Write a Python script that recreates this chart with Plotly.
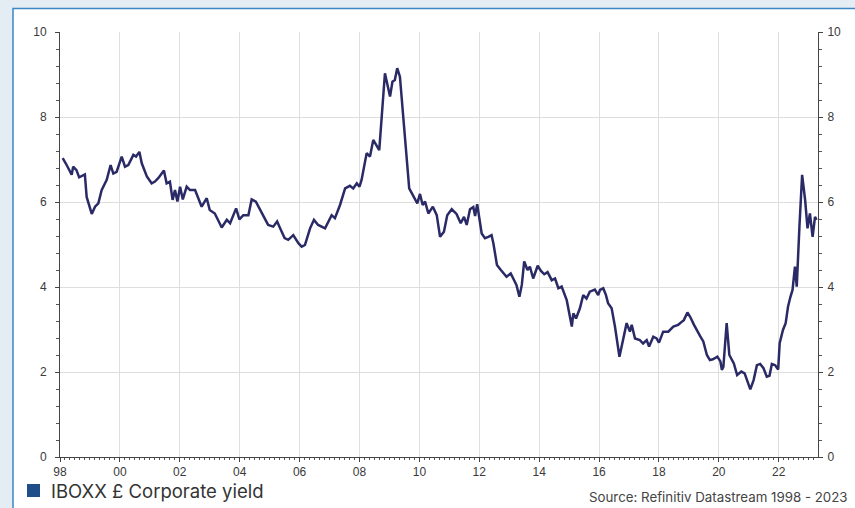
import plotly.graph_objects as go

# Decimal-year positions and yield values (%)
years = [
    1998.09, 1998.2, 1998.39, 1998.44, 1998.55, 1998.64, 1998.83, 1998.89, 1999.06, 1999.17,
    1999.28, 1999.39, 1999.56, 1999.69, 1999.78, 1999.89, 2000.06, 2000.17, 2000.28, 2000.45,
    2000.54, 2000.65, 2000.73, 2000.9, 2001.06, 2001.17, 2001.28, 2001.47, 2001.56, 2001.67,
    2001.76, 2001.84, 2001.92, 2002.01, 2002.1, 2002.23, 2002.34, 2002.51, 2002.73, 2002.9,
    2003.0, 2003.17, 2003.4, 2003.57, 2003.68, 2003.88, 2003.99, 2004.12, 2004.29, 2004.4,
    2004.54, 2004.73, 2004.95, 2005.12, 2005.25, 2005.35, 2005.5, 2005.62, 2005.79, 2005.96,
    2006.07, 2006.18, 2006.35, 2006.48, 2006.62, 2006.85, 2007.07, 2007.18, 2007.35, 2007.52,
    2007.68, 2007.79, 2007.91, 2008.0, 2008.07, 2008.24, 2008.35, 2008.46, 2008.55, 2008.66,
    2008.85, 2009.02, 2009.1, 2009.18, 2009.26, 2009.35, 2009.66, 2009.8, 2009.93, 2010.02,
    2010.11, 2010.19, 2010.3, 2010.45, 2010.58, 2010.69, 2010.82, 2010.93, 2011.08, 2011.24,
    2011.38, 2011.49, 2011.58, 2011.69, 2011.8, 2011.86, 2011.93, 2012.08, 2012.19, 2012.3,
    2012.41, 2012.47, 2012.59, 2012.72, 2012.91, 2013.05, 2013.16, 2013.24, 2013.34, 2013.42,
    2013.5, 2013.61, 2013.69, 2013.8, 2013.95, 2014.06, 2014.17, 2014.28, 2014.42, 2014.53,
    2014.64, 2014.75, 2014.92, 2015.09, 2015.14, 2015.23, 2015.36, 2015.47, 2015.58, 2015.69,
    2015.86, 2015.97, 2016.03, 2016.14, 2016.23, 2016.3, 2016.42, 2016.53, 2016.68, 2016.79,
    2016.92, 2017.03, 2017.09, 2017.2, 2017.36, 2017.47, 2017.59, 2017.67, 2017.81, 2017.92,
    2018.0, 2018.14, 2018.31, 2018.48, 2018.64, 2018.76, 2018.83, 2018.95, 2019.04, 2019.17,
    2019.31, 2019.37, 2019.48, 2019.6, 2019.7, 2019.8, 2019.95, 2020.05, 2020.1, 2020.15,
    2020.26, 2020.35, 2020.5, 2020.61, 2020.75, 2020.86, 2021.05, 2021.16, 2021.27, 2021.38,
    2021.49, 2021.6, 2021.69, 2021.77, 2021.88, 2021.98, 2022.03, 2022.14, 2022.23, 2022.31,
    2022.39, 2022.46, 2022.54, 2022.6, 2022.69, 2022.78, 2022.88, 2022.96, 2023.04, 2023.13,
    2023.21, 2023.26,
]
yield_pct = [
    7.03, 6.9, 6.64, 6.83, 6.75, 6.58, 6.65, 6.12, 5.72, 5.89,
    5.97, 6.28, 6.52, 6.87, 6.67, 6.71, 7.07, 6.83, 6.87, 7.11,
    7.07, 7.18, 6.91, 6.6, 6.44, 6.48, 6.56, 6.74, 6.44, 6.48,
    6.05, 6.28, 6.01, 6.36, 6.06, 6.36, 6.28, 6.28, 5.89, 6.09,
    5.81, 5.73, 5.4, 5.58, 5.5, 5.85, 5.59, 5.69, 5.69, 6.06,
    6.01, 5.77, 5.46, 5.42, 5.54, 5.38, 5.15, 5.11, 5.22, 5.03,
    4.95, 4.99, 5.38, 5.58, 5.46, 5.38, 5.69, 5.62, 5.93, 6.32,
    6.38, 6.32, 6.44, 6.36, 6.52, 7.15, 7.07, 7.46, 7.34, 7.22,
    9.03, 8.48, 8.83, 8.87, 9.15, 8.95, 6.32, 6.12, 5.97, 6.19,
    5.93, 6.01, 5.73, 5.89, 5.69, 5.18, 5.3, 5.69, 5.83, 5.72,
    5.5, 5.65, 5.46, 5.83, 5.88, 5.67, 5.95, 5.26, 5.15, 5.18,
    5.22, 5.03, 4.52, 4.4, 4.24, 4.32, 4.16, 4.05, 3.77, 4.05,
    4.6, 4.4, 4.48, 4.2, 4.5, 4.38, 4.3, 4.35, 4.16, 4.2,
    3.97, 4.01, 3.69, 3.07, 3.38, 3.26, 3.5, 3.81, 3.73, 3.89,
    3.94, 3.81, 3.93, 3.97, 3.81, 3.62, 3.5, 3.07, 2.36, 2.75,
    3.15, 2.95, 3.11, 2.79, 2.75, 2.67, 2.75, 2.6, 2.83, 2.79,
    2.69, 2.95, 2.95, 3.07, 3.11, 3.18, 3.22, 3.4, 3.3, 3.11,
    2.91, 2.85, 2.72, 2.4, 2.28, 2.3, 2.36, 2.25, 2.05, 2.12,
    3.15, 2.4, 2.2, 1.93, 2.01, 1.97, 1.59, 1.81, 2.16, 2.19,
    2.09, 1.89, 1.91, 2.19, 2.16, 2.06, 2.68, 2.99, 3.15, 3.54,
    3.77, 3.93, 4.48, 4.01, 5.42, 6.64, 6.05, 5.38, 5.73, 5.18,
    5.65, 5.58,
]

x_tick_vals = [1998, 2000, 2002, 2004, 2006, 2008, 2010, 2012, 2014, 2016, 2018, 2020, 2022]
x_tick_text = ["98", "00", "02", "04", "06", "08", "10", "12", "14", "16", "18", "20", "22"]
y_tick_vals = [0, 2, 4, 6, 8, 10]

series_name = "IBOXX £ Corporate yield"
source_text = "Source: Refinitiv Datastream 1998 - 2023"

W, H = 855, 508
L, R, T, B = 60, 818, 32, 457  # plot area pixel bounds


def px_x(p):
    return (p - L) / (R - L)


def px_y(p):
    return (B - p) / (B - T)


fig = go.Figure()
fig.add_trace(go.Scatter(
    x=years, y=yield_pct, mode="lines", name=series_name,
    line=dict(color="#2a2a66", width=2.5), showlegend=False,
))
# invisible trace to activate right-hand axis
fig.add_trace(go.Scatter(x=[years[0]], y=[yield_pct[0]], yaxis="y2", mode="lines",
                         line=dict(width=0), showlegend=False, hoverinfo="skip"))

axis_font = dict(family="Liberation Sans, Arial, sans-serif", size=12, color="#3a3a3a")
minor_y = dict(dtick=0.4, ticklen=3, tickcolor="#555", ticks="outside", showgrid=False)

fig.update_layout(
    width=W, height=H,
    margin=dict(l=L, r=W - R, t=T, b=H - B),
    paper_bgcolor="#e4ecf4",
    plot_bgcolor="rgba(0,0,0,0)",
    xaxis=dict(
        range=[1998, 2023.31], tickvals=x_tick_vals, ticktext=x_tick_text,
        showgrid=True, gridcolor="#dedede", gridwidth=1,
        showline=True, linecolor="#444", linewidth=1,
        ticks="outside", ticklen=4, tickcolor="#444",
        minor=dict(dtick=1 / 6, tick0=1998, ticklen=2, tickcolor="#555", ticks="outside", showgrid=False),
        tickfont=axis_font, zeroline=False,
    ),
    yaxis=dict(
        range=[0, 10], tickvals=y_tick_vals,
        showgrid=True, gridcolor="#dedede", gridwidth=1,
        showline=True, linecolor="#444", linewidth=1,
        ticks="outside", ticklen=4, tickcolor="#444",
        minor=minor_y, tickfont=axis_font, zeroline=False,
        ticklabelstandoff=6,
    ),
    yaxis2=dict(
        range=[0, 10], tickvals=y_tick_vals, overlaying="y", side="right",
        showgrid=False, showline=True, linecolor="#444", linewidth=1,
        ticks="outside", ticklen=4, tickcolor="#444",
        minor=minor_y, tickfont=axis_font, zeroline=False,
        ticklabelstandoff=2,
    ),
    shapes=[
        dict(type="rect", xref="paper", yref="paper", layer="below",
             x0=px_x(13), x1=px_x(870), y0=px_y(520), y1=px_y(8.5),
             fillcolor="white", line=dict(color="#3d86c6", width=1.5)),
        dict(type="rect", xref="paper", yref="paper",
             x0=px_x(27), x1=px_x(40), y0=px_y(497), y1=px_y(484),
             fillcolor="#1f4e89", line=dict(width=0)),
    ],
    annotations=[
        dict(text=series_name, xref="paper", yref="paper", x=px_x(49), y=px_y(491),
             xanchor="left", yanchor="middle", showarrow=False,
             font=dict(family="Inter, Roboto, sans-serif", size=18.5, color="#333")),
        dict(text=source_text, xref="paper", yref="paper", x=px_x(850), y=px_y(497),
             xanchor="right", yanchor="middle", showarrow=False,
             font=dict(family="Inter, Roboto, sans-serif", size=13.3, color="#444")),
    ],
)

fig.write_html("out.html")
